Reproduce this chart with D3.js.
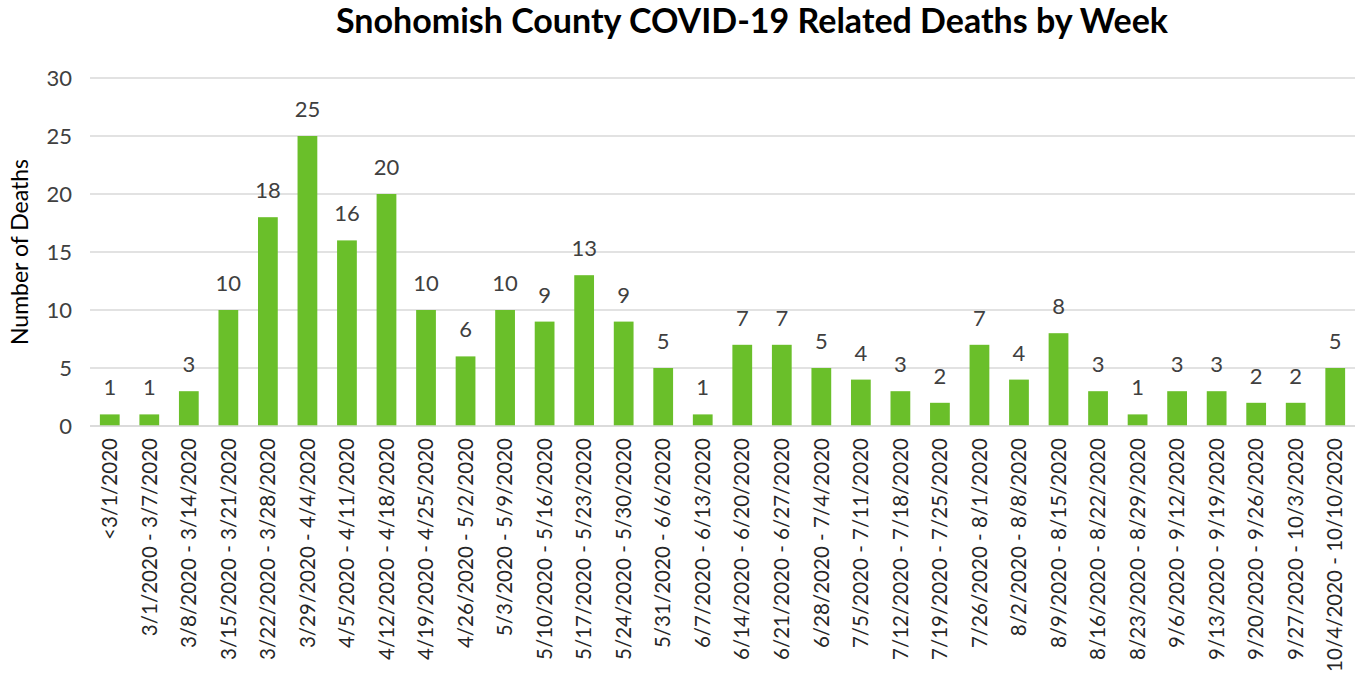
<!DOCTYPE html>
<html>
<head>
<meta charset="utf-8">
<script src="https://cdn.jsdelivr.net/npm/d3@7"></script>
<style>
  body { margin: 0; background: #fff; }
  text { font-family: Lato, "Open Sans", sans-serif; }
</style>
</head>
<body>
<svg id="chart" width="1359" height="681"></svg>
<script>
const weeks = ["<3/1/2020", "3/1/2020 - 3/7/2020", "3/8/2020 - 3/14/2020", "3/15/2020 - 3/21/2020",
  "3/22/2020 - 3/28/2020", "3/29/2020 - 4/4/2020", "4/5/2020 - 4/11/2020", "4/12/2020 - 4/18/2020",
  "4/19/2020 - 4/25/2020", "4/26/2020 - 5/2/2020", "5/3/2020 - 5/9/2020", "5/10/2020 - 5/16/2020",
  "5/17/2020 - 5/23/2020", "5/24/2020 - 5/30/2020", "5/31/2020 - 6/6/2020", "6/7/2020 - 6/13/2020",
  "6/14/2020 - 6/20/2020", "6/21/2020 - 6/27/2020", "6/28/2020 - 7/4/2020", "7/5/2020 - 7/11/2020",
  "7/12/2020 - 7/18/2020", "7/19/2020 - 7/25/2020", "7/26/2020 - 8/1/2020", "8/2/2020 - 8/8/2020",
  "8/9/2020 - 8/15/2020", "8/16/2020 - 8/22/2020", "8/23/2020 - 8/29/2020", "9/6/2020 - 9/12/2020",
  "9/13/2020 - 9/19/2020", "9/20/2020 - 9/26/2020", "9/27/2020 - 10/3/2020", "10/4/2020 - 10/10/2020"];
const deaths = [1, 1, 3, 10, 18, 25, 16, 20, 10, 6, 10, 9, 13, 9, 5, 1, 7, 7, 5, 4, 3, 2, 7, 4, 8, 3, 1, 3, 3, 2, 2, 5];
const yTicks = [0, 5, 10, 15, 20, 25, 30];

const svg = d3.select("#chart");
const plotLeft = 90, plotRight = 1355, plotTop = 78, plotBottom = 426;
const fontFam = "Lato, 'Open Sans', sans-serif";

const x = d3.scaleBand().domain(weeks).range([plotLeft, plotRight]).paddingInner(0.5).paddingOuter(0.25);
const y = d3.scaleLinear().domain([0, 30]).range([plotBottom, plotTop]);

// gridlines
svg.append("g")
  .selectAll("line")
  .data(yTicks)
  .enter().append("line")
  .attr("x1", plotLeft).attr("x2", plotRight)
  .attr("y1", d => y(d)).attr("y2", d => y(d))
  .attr("stroke", "#d9d9d9")
  .attr("stroke-width", 1.3);

// y axis labels
const yAxis = svg.append("g")
  .attr("transform", "translate(" + plotLeft + ",0)")
  .call(d3.axisLeft(y).tickValues(yTicks).tickSize(0).tickPadding(18));
yAxis.select(".domain").remove();
yAxis.selectAll("text")
  .attr("fill", "#404040")
  .style("font-size", "22px")
  .style("font-family", fontFam);

// bars
svg.append("g")
  .selectAll("rect")
  .data(deaths)
  .enter().append("rect")
  .attr("x", (d, i) => x(weeks[i]))
  .attr("y", d => y(d))
  .attr("width", x.bandwidth())
  .attr("height", d => y(0) - y(d))
  .attr("fill", "#6abf2a");

// value labels
svg.append("g")
  .selectAll("text")
  .data(deaths)
  .enter().append("text")
  .attr("x", (d, i) => x(weeks[i]) + x.bandwidth() / 2)
  .attr("y", d => y(d) - 19)
  .attr("text-anchor", "middle")
  .attr("fill", "#404040")
  .style("font-size", "22px")
  .text(d => d);

// baseline
svg.append("line")
  .attr("x1", plotLeft).attr("x2", plotRight)
  .attr("y1", y(0)).attr("y2", y(0))
  .attr("stroke", "#d9d9d9")
  .attr("stroke-width", 1.5);

// x category labels
const xAxis = svg.append("g")
  .attr("transform", "translate(0," + plotBottom + ")")
  .call(d3.axisBottom(x).tickSize(0).tickPadding(0));
xAxis.select(".domain").remove();
const catLabels = xAxis.selectAll("text")
  .attr("transform", "rotate(-90)")
  .attr("x", -12)
  .attr("y", 0)
  .attr("dy", "0.35em")
  .attr("text-anchor", "end")
  .attr("fill", "#262626")
  .style("font-size", "20px")
  .style("font-family", fontFam);

// fit longest label into the space below the axis (about 236px, as in the original)
let longest = 0;
catLabels.each(function () { longest = Math.max(longest, this.getComputedTextLength()); });
if (longest > 0) catLabels.style("font-size", (20 * 234 / longest) + "px");

// title
svg.append("text")
  .attr("x", 752)
  .attr("y", 33)
  .attr("text-anchor", "middle")
  .attr("fill", "#000")
  .style("font-size", "34px")
  .style("font-weight", "bold")
  .text("Snohomish County COVID-19 Related Deaths by Week");

// y axis title
svg.append("text")
  .attr("transform", "translate(28," + ((plotTop + plotBottom) / 2) + ") rotate(-90)")
  .attr("text-anchor", "middle")
  .attr("fill", "#000")
  .style("font-size", "23px")
  .text("Number of Deaths");
</script>
</body>
</html>
